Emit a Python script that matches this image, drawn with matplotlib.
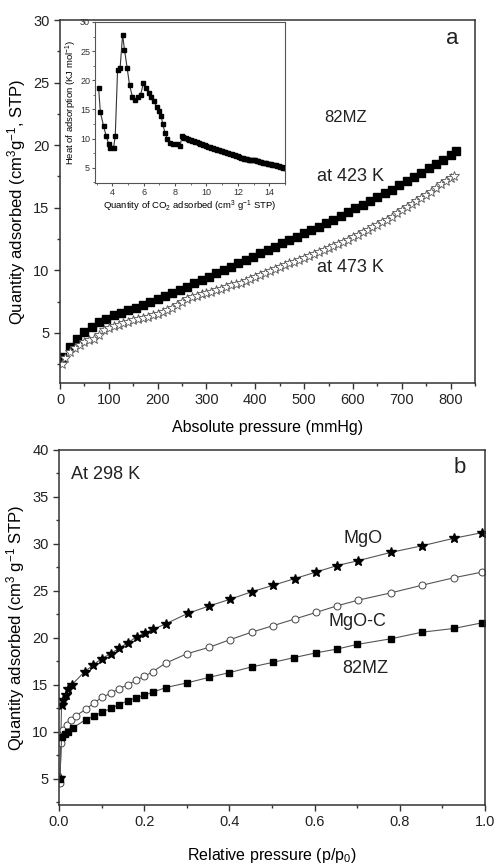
import numpy as np
import matplotlib
matplotlib.use("Agg")
import matplotlib.pyplot as plt
from matplotlib.ticker import MultipleLocator, FormatStrFormatter

plt.rcParams['font.family'] = ['Liberation Sans', 'DejaVu Sans']
plt.rcParams['mathtext.fontset'] = 'custom'
plt.rcParams['mathtext.rm'] = 'Liberation Sans'
plt.rcParams['mathtext.it'] = 'Liberation Sans'
plt.rcParams['text.color'] = '#222222'
plt.rcParams['axes.edgecolor'] = '#333333'
plt.rcParams['xtick.color'] = '#333333'
plt.rcParams['ytick.color'] = '#333333'
plt.rcParams['xtick.labelcolor'] = '#222222'
plt.rcParams['ytick.labelcolor'] = '#222222'

# (a) 82MZ isotherms, quantity adsorbed vs absolute pressure (mmHg)
p_423 = [5, 20, 35, 50, 65, 80, 95, 110, 125, 140, 155, 170, 185, 200, 215, 230,
         245, 260, 275, 290, 305, 320, 335, 350, 365, 380, 395, 410, 425, 440, 455,
         470, 485, 500, 515, 530, 545, 560, 575, 590, 605, 620, 635, 650, 665, 680,
         695, 710, 725, 740, 755, 770, 785, 800, 812]
q_423 = [3.1, 3.85, 4.55, 5.1, 5.5, 5.85, 6.15, 6.4, 6.6, 6.8, 7.0, 7.2, 7.45, 7.7,
         7.95, 8.2, 8.45, 8.7, 9.0, 9.25, 9.5, 9.8, 10.05, 10.3, 10.6, 10.85, 11.1,
         11.35, 11.6, 11.9, 12.15, 12.4, 12.7, 12.95, 13.2, 13.5, 13.75, 14.05, 14.35,
         14.65, 14.95, 15.25, 15.55, 15.85, 16.15, 16.45, 16.8, 17.1, 17.45, 17.8,
         18.15, 18.5, 18.85, 19.2, 19.5]

p_473 = [4, 10, 20, 30, 40, 50, 60, 70, 80, 90, 100, 110, 120, 130, 140, 150, 160,
         170, 180, 190, 200, 210, 220, 230, 240, 250, 260, 270, 280, 290, 300, 310,
         320, 330, 340, 350, 360, 370, 380, 390, 400, 410, 420, 430, 440, 450, 460,
         470, 480, 490, 500, 510, 520, 530, 540, 550, 560, 570, 580, 590, 600, 610,
         620, 630, 640, 650, 660, 670, 680, 690, 700, 710, 720, 730, 740, 750, 760,
         770, 780, 790, 800, 806]
q_473 = [2.5, 3.0, 3.45, 3.8, 4.05, 4.25, 4.4, 4.5, 4.8, 5.2, 5.4, 5.55, 5.65, 5.78,
         5.9, 6.0, 6.1, 6.2, 6.3, 6.42, 6.55, 6.67, 6.8, 7.0, 7.25, 7.5, 7.68, 7.85,
         7.97, 8.08, 8.2, 8.3, 8.42, 8.55, 8.67, 8.8, 8.9, 9.0, 9.12, 9.3, 9.5, 9.65,
         9.8, 9.95, 10.1, 10.25, 10.4, 10.55, 10.7, 10.85, 11.0, 11.15, 11.3, 11.45,
         11.6, 11.8, 11.95, 12.1, 12.3, 12.45, 12.65, 12.85, 13.05, 13.25, 13.45,
         13.65, 13.85, 14.05, 14.3, 14.55, 14.8, 15.05, 15.3, 15.55, 15.8, 16.05,
         16.3, 16.6, 16.9, 17.15, 17.4, 17.55]

# inset: isosteric heat of adsorption vs quantity of CO2 adsorbed
co2_q = [3.13, 3.24, 3.45, 3.62, 3.77, 3.87, 4.08, 4.19, 4.34, 4.5, 4.66, 4.78,
         4.95, 5.1, 5.28, 5.44, 5.64, 5.8, 5.99, 6.16, 6.33, 6.49, 6.65, 6.82, 6.98,
         7.11, 7.22, 7.37, 7.51, 7.68, 7.89, 8.11, 8.32, 8.45,
         8.5, 8.6, 8.7, 8.8, 8.9, 9.0, 9.1, 9.2, 9.3, 9.4, 9.5, 9.6, 9.7, 9.8, 9.9,
         10.0, 10.1, 10.2, 10.3, 10.4, 10.5, 10.6, 10.7, 10.8, 10.9, 11.0, 11.1, 11.2,
         11.3, 11.4, 11.5, 11.6, 11.7, 11.8, 11.9, 12.0, 12.1, 12.2, 12.3, 12.4, 12.5,
         12.6, 12.7, 12.8, 12.9, 13.0, 13.1, 13.2, 13.3, 13.4, 13.5, 13.6, 13.7, 13.8,
         13.9, 14.0, 14.1, 14.2, 14.3, 14.4, 14.5, 14.6, 14.7, 14.8, 14.9, 15.0]
heat = [18.75, 14.6, 12.1, 10.4, 9.1, 8.4, 8.4, 10.4, 21.8, 22.1, 27.8, 25.2,
        22.1, 19.2, 17.2, 16.6, 17.1, 17.5, 19.5, 18.6, 17.9, 17.2, 16.4, 15.5, 14.8,
        13.9, 12.5, 10.9, 9.9, 9.3, 9.1, 9.0, 8.8, 10.4,
        10.25, 10.15, 10.05, 9.95, 9.85, 9.75, 9.65, 9.55, 9.45, 9.35, 9.25, 9.15,
        9.05, 8.95, 8.85, 8.75, 8.65, 8.55, 8.45, 8.4, 8.3, 8.2, 8.1, 8.0, 7.95, 7.85,
        7.75, 7.65, 7.6, 7.5, 7.45, 7.35, 7.25, 7.15, 7.05, 6.95, 6.85, 6.75, 6.65,
        6.55, 6.5, 6.45, 6.42, 6.4, 6.38, 6.35, 6.3, 6.22, 6.12, 6.02, 5.95, 5.9,
        5.82, 5.75, 5.7, 5.65, 5.6, 5.55, 5.5, 5.42, 5.35, 5.28, 5.2, 5.12, 5.03, 4.95]

# (b) isotherms at 298 K vs relative pressure
rp_mgo = [0.002, 0.006, 0.010, 0.016, 0.022, 0.030, 0.060, 0.080, 0.100, 0.121,
          0.141, 0.162, 0.182, 0.202, 0.221, 0.251, 0.302, 0.353, 0.401, 0.452,
          0.503, 0.553, 0.603, 0.653, 0.701, 0.779, 0.852, 0.927, 0.993]
q_mgo = [5.1, 12.9, 13.4, 13.9, 14.5, 15.0, 16.4, 17.1, 17.8, 18.3, 18.9, 19.5,
         20.1, 20.5, 20.9, 21.5, 22.6, 23.4, 24.1, 24.9, 25.6, 26.3, 27.0, 27.7,
         28.2, 29.1, 29.8, 30.6, 31.2]

rp_mgoc = [0.002, 0.005, 0.010, 0.018, 0.028, 0.040, 0.063, 0.083, 0.102, 0.122,
           0.141, 0.162, 0.181, 0.200, 0.220, 0.250, 0.300, 0.353, 0.401, 0.452,
           0.503, 0.553, 0.603, 0.652, 0.701, 0.780, 0.852, 0.927, 0.993]
q_mgoc = [4.5, 8.8, 10.2, 10.7, 11.2, 11.7, 12.4, 13.1, 13.7, 14.1, 14.6, 15.0,
          15.5, 15.9, 16.4, 17.3, 18.3, 19.0, 19.8, 20.6, 21.3, 22.0, 22.7, 23.4,
          24.0, 24.8, 25.6, 26.4, 27.0]

rp_82mz = [0.002, 0.006, 0.014, 0.020, 0.032, 0.063, 0.083, 0.102, 0.122, 0.141,
           0.161, 0.180, 0.200, 0.220, 0.250, 0.300, 0.353, 0.400, 0.452, 0.503,
           0.552, 0.603, 0.652, 0.700, 0.779, 0.852, 0.927, 0.993]
q_82mz = [5.0, 9.4, 9.8, 10.0, 10.4, 11.3, 11.7, 12.1, 12.5, 12.9, 13.3, 13.6,
          13.9, 14.2, 14.7, 15.2, 15.8, 16.3, 16.9, 17.4, 17.9, 18.4, 18.8, 19.3,
          19.9, 20.6, 21.0, 21.6]

fig = plt.figure(figsize=(4.96, 8.66), dpi=100)


def style_axes(ax):
    for s in ax.spines.values():
        s.set_linewidth(1.1)
    ax.tick_params(which='both', direction='out', top=False, right=False,
                   labelsize=10.5)
    ax.tick_params(which='major', length=4, width=1)
    ax.tick_params(which='minor', length=2.5, width=1)


# ---- panel a ----
ax1 = fig.add_axes([0.121, 0.5577, 0.8367, 0.4192])
ax1.plot(p_423, q_423, ls='none', marker='s', ms=6.3, color='black')
ax1.plot(p_473, q_473, ls='none', marker='*', ms=7.5, mfc='white',
         mec='#555555', mew=0.6)
ax1.set_xlim(0, 850)
ax1.set_ylim(1, 30)
ax1.xaxis.set_major_locator(MultipleLocator(100))
ax1.xaxis.set_minor_locator(MultipleLocator(50))
ax1.yaxis.set_major_locator(MultipleLocator(5))
ax1.yaxis.set_minor_locator(MultipleLocator(2.5))
style_axes(ax1)
ax1.set_xlabel('Absolute pressure (mmHg)', fontsize=11.5, labelpad=9)
ax1.set_ylabel('Quantity adsorbed (cm$^3$g$^{-1}$, STP)', fontsize=12, labelpad=4)
ax1.text(0.945, 0.95, 'a', transform=ax1.transAxes, fontsize=16,
         ha='center', va='center')
ax1.text(585, 22.2, '82MZ', fontsize=12, ha='center', va='center')
ax1.text(595, 17.5, 'at 423 K', fontsize=13, ha='center', va='center')
ax1.text(595, 10.2, 'at 473 K', fontsize=13, ha='center', va='center')

# inset
axi = fig.add_axes([0.1915, 0.7887, 0.383, 0.186])
axi.plot(co2_q, heat, color='#333333', lw=0.8, marker='s', ms=2.3,
         mfc='black', mec='black')
axi.set_xlim(2.9, 15)
axi.set_ylim(2.4, 30)
axi.xaxis.set_major_locator(MultipleLocator(2))
axi.xaxis.set_minor_locator(MultipleLocator(1))
axi.yaxis.set_major_locator(MultipleLocator(5))
axi.yaxis.set_minor_locator(MultipleLocator(2.5))
for s in axi.spines.values():
    s.set_linewidth(0.8)
    s.set_color('#555555')
axi.tick_params(which='both', direction='out', labelsize=6.5, pad=1.5,
                colors='#555555', labelcolor='#333333')
axi.tick_params(which='major', length=2)
axi.tick_params(which='minor', length=1.2)
axi.set_xlabel('Quantity of CO$_2$ adsorbed (cm$^3$ g$^{-1}$ STP)', fontsize=6.8,
               labelpad=1)
axi.set_ylabel('Heat of adsorption (KJ mol$^{-1}$)', fontsize=6.8, labelpad=1)

# ---- panel b ----
ax2 = fig.add_axes([0.119, 0.0704, 0.859, 0.41])
ax2.plot(rp_mgo, q_mgo, color='#555555', lw=0.8, marker='*', ms=7,
         mfc='black', mec='black')
ax2.plot(rp_mgoc, q_mgoc, color='#555555', lw=0.8, marker='o', ms=5,
         mfc='white', mec='#444444', mew=0.7)
ax2.plot(rp_82mz, q_82mz, color='#555555', lw=0.8, marker='s', ms=4.5,
         mfc='black', mec='black')
ax2.set_xlim(0, 1.0)
ax2.set_ylim(2.2, 40)
ax2.xaxis.set_major_locator(MultipleLocator(0.2))
ax2.xaxis.set_minor_locator(MultipleLocator(0.1))
ax2.yaxis.set_major_locator(MultipleLocator(5))
ax2.yaxis.set_minor_locator(MultipleLocator(2.5))
ax2.xaxis.set_major_formatter(FormatStrFormatter('%.1f'))
style_axes(ax2)
ax2.set_xlabel('Relative pressure (p/p$_0$)', fontsize=11.5, labelpad=12)
ax2.set_ylabel('Quantity adsorbed (cm$^3$ g$^{-1}$ STP)', fontsize=12, labelpad=4)
ax2.text(0.027, 0.93, 'At 298 K', transform=ax2.transAxes, fontsize=13,
         ha='left', va='center')
ax2.text(0.94, 0.95, 'b', transform=ax2.transAxes, fontsize=16,
         ha='center', va='center')
ax2.text(0.714, 30.6, 'MgO', fontsize=13, ha='center', va='center')
ax2.text(0.70, 21.7, 'MgO-C', fontsize=13, ha='center', va='center')
ax2.text(0.718, 16.7, '82MZ', fontsize=13, ha='center', va='center')

fig.savefig('out.png', dpi=100)
